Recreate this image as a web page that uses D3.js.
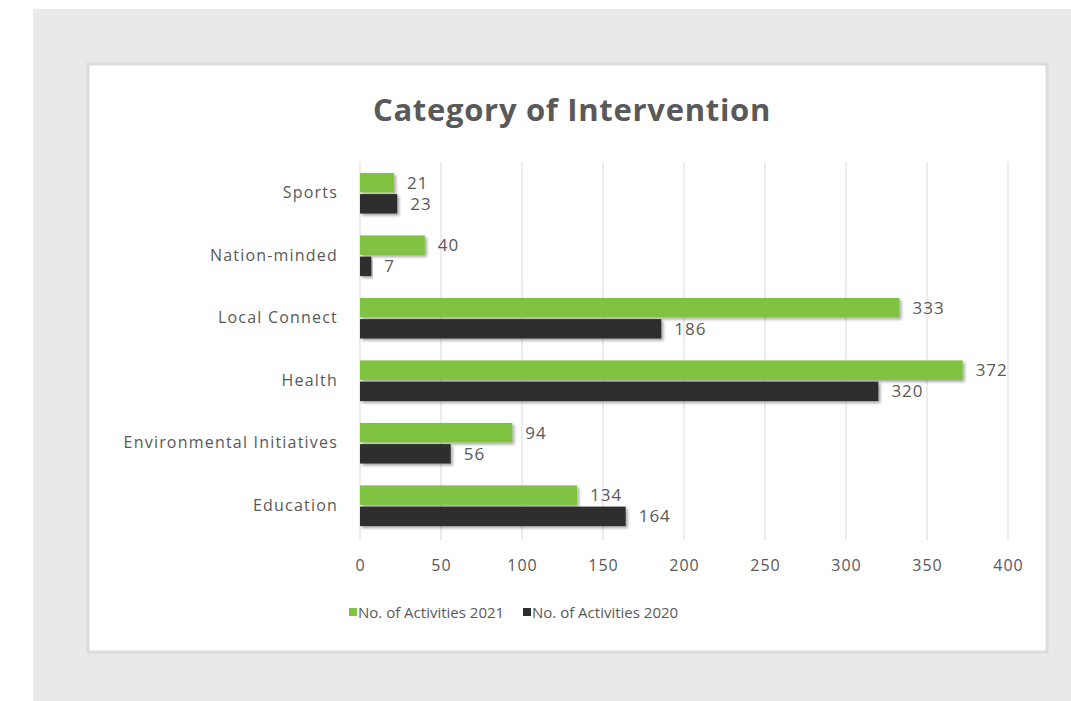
<!DOCTYPE html>
<html>
<head>
<meta charset="utf-8">
<script src="https://cdn.jsdelivr.net/npm/d3@7"></script>
<style>
  body { margin: 0; background: #fff; }
  text { font-family: "Open Sans", sans-serif; fill: #595959; }
</style>
</head>
<body>
<div id="chart"></div>
<script>
const categories = ["Sports", "Nation-minded", "Local Connect", "Health", "Environmental Initiatives", "Education"];
const activities2021 = [21, 40, 333, 372, 94, 134];
const activities2020 = [23, 7, 186, 320, 56, 164];
const seriesNames = ["No. of Activities 2021", "No. of Activities 2020"];
const seriesColors = ["#80c342", "#2f2f2f"];
const xTicks = [0, 50, 100, 150, 200, 250, 300, 350, 400];

const W = 1071, H = 701;

const svg = d3.select("#chart").append("svg")
    .attr("width", W)
    .attr("height", H);

// drop shadow for bars
const defs = svg.append("defs");
const f = defs.append("filter").attr("id", "shadow")
    .attr("x", "-5%").attr("y", "-30%").attr("width", "115%").attr("height", "180%");
f.append("feDropShadow")
    .attr("dx", 2).attr("dy", 2).attr("stdDeviation", 1.5)
    .attr("flood-color", "#000").attr("flood-opacity", 0.35);

// gray page background + chart box
svg.append("rect").attr("x", 33).attr("y", 9).attr("width", W - 33).attr("height", H - 9).attr("fill", "#e9e9e9");
svg.append("rect").attr("x", 88).attr("y", 64).attr("width", 959).attr("height", 588)
    .attr("fill", "#fff").attr("stroke", "#dcdcdc").attr("stroke-width", 3);

const x = d3.scaleLinear().domain([0, 400]).range([360, 1008]);
const y = d3.scaleBand().domain(categories).range([162, 537]).paddingInner(0.35).paddingOuter(0.175);
const sub = d3.scaleBand().domain([0, 1]).range([0, y.bandwidth()]).paddingInner(0.08);

// title
svg.append("text")
    .attr("x", 572).attr("y", 121)
    .attr("text-anchor", "middle")
    .attr("font-size", 31).attr("font-weight", "bold")
    .attr("letter-spacing", 0.7)
    .text("Category of Intervention");

// gridlines
svg.append("g").selectAll("line")
    .data(xTicks)
    .join("line")
    .attr("x1", d => x(d)).attr("x2", d => x(d))
    .attr("y1", 162).attr("y2", 540)
    .attr("stroke", "#d9d9d9").attr("stroke-width", 1);

// x axis labels
const xAxis = d3.axisBottom(x).tickValues(xTicks).tickSize(0).tickPadding(23);
const gx = svg.append("g").attr("transform", "translate(0,537)").call(xAxis);
gx.select(".domain").remove();
gx.selectAll("text").attr("font-size", 16).attr("fill", "#595959")
    .attr("letter-spacing", 1)
    .style("font-family", "'Open Sans', sans-serif");

// y axis labels
const yAxis = d3.axisLeft(y).tickSize(0).tickPadding(22);
const gy = svg.append("g").attr("transform", "translate(360,0)").call(yAxis);
gy.select(".domain").remove();
gy.selectAll("text").attr("font-size", 16).attr("fill", "#595959")
    .attr("letter-spacing", 1.2)
    .style("font-family", "'Open Sans', sans-serif");

const series = [activities2021, activities2020];

series.forEach((vals, si) => {
    const g = svg.append("g");
    g.selectAll("rect")
        .data(vals)
        .join("rect")
        .attr("x", x(0))
        .attr("y", (d, i) => y(categories[i]) + sub(si))
        .attr("width", d => x(d) - x(0))
        .attr("height", sub.bandwidth())
        .attr("fill", seriesColors[si])
        .attr("filter", "url(#shadow)");

    g.selectAll("text")
        .data(vals)
        .join("text")
        .attr("x", d => x(d) + 13)
        .attr("y", (d, i) => y(categories[i]) + sub(si) + sub.bandwidth() / 2)
        .attr("dy", "0.35em")
        .attr("font-size", 17)
        .attr("letter-spacing", 1)
        .text(d => d);
});

// legend
const legendX = [349, 523];
const legend = svg.append("g");
seriesNames.forEach((name, i) => {
    legend.append("rect")
        .attr("x", legendX[i]).attr("y", 608)
        .attr("width", 8).attr("height", 8)
        .attr("fill", seriesColors[i]);
    legend.append("text")
        .attr("x", legendX[i] + 9).attr("y", 613)
        .attr("dy", "0.35em")
        .attr("font-size", 15)
        .text(name);
});
</script>
</body>
</html>
